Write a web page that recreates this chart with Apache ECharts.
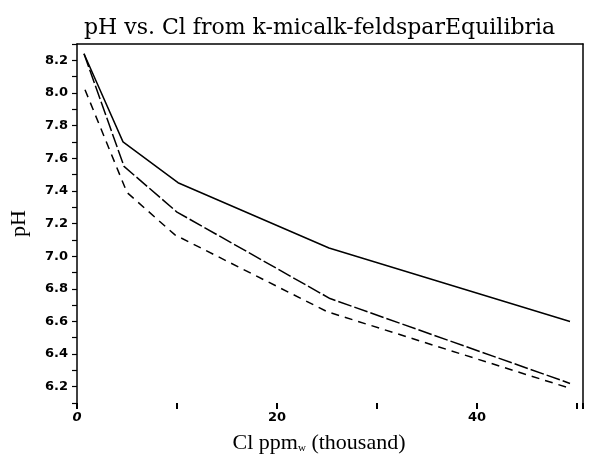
<!DOCTYPE html>
<html>
<head>
<meta charset="utf-8">
<script src="https://cdn.jsdelivr.net/npm/echarts@6/dist/echarts.min.js"></script>
<style>
  html, body { margin: 0; padding: 0; background: #fff; }
  #chart { width: 590px; height: 461px; }
</style>
</head>
<body>
<div id="chart"></div>
<script>
// Cl (thousand ppm) readings for each curve
const clSolid = [0.7, 4.6, 10.1, 25.2, 49.3]
const phSolid = [8.24, 7.70, 7.45, 7.05, 6.60]

const clLongDash = [0.7, 4.7, 10.0, 25.3, 49.3]
const phLongDash = [8.24, 7.55, 7.27, 6.74, 6.22]

const clDash = [0.8, 5.0, 9.8, 25.0, 49.3]
const phDash = [8.02, 7.39, 7.13, 6.66, 6.19]

const xLabels = [0, 20, 40]

function pairs(xs, ys) {
  return xs.map((x, i) => [x, ys[i]])
}

let chart = echarts.init(document.getElementById('chart'))

let option = {
  animation: false,
  title: {
    text: 'pH vs. Cl from k-micalk-feldsparEquilibria',
    left: 79,
    top: 12,
    textStyle: {
      fontFamily: 'DejaVu Serif',
      fontWeight: 'normal',
      fontSize: 22,
      color: '#000'
    }
  },
  grid: {
    left: 77,
    right: 7,
    top: 44,
    bottom: 58
  },
  xAxis: [
    {
      type: 'value',
      min: 0,
      max: 50.6,
      interval: 10,
      name: '{a|Cl ppm}{s|w}{a| (thousand)}',
      nameLocation: 'middle',
      nameGap: 29,
      nameTextStyle: {
        padding: [0, 22, 0, 0],
        rich: {
          a: { fontFamily: 'Liberation Serif', fontSize: 22, color: '#000' },
          s: { fontFamily: 'Liberation Serif', fontSize: 11, color: '#000', verticalAlign: 'bottom', padding: [10, 0, 0, 0] }
        }
      },
      axisLine: { show: false },
      axisTick: { show: true, length: 6, lineStyle: { color: '#000', width: 2 } },
      splitLine: { show: false },
      axisLabel: {
        margin: 8,
        formatter: v => v === 0 ? '{i|0}' : (xLabels.includes(v) ? String(v) : ''),
        fontFamily: 'DejaVu Sans',
        fontWeight: 'bold',
        fontSize: 13,
        color: '#000',
        rich: {
          i: { fontFamily: 'DejaVu Sans', fontWeight: 'bold', fontStyle: 'italic', fontSize: 13, color: '#000' }
        }
      }
    },
    {
      type: 'value',
      position: 'top',
      min: 0,
      max: 50.6,
      axisLine: { show: true, onZero: false, lineStyle: { color: '#000', width: 1.5 } },
      axisTick: { show: false },
      axisLabel: { show: false },
      splitLine: { show: false }
    }
  ],
  yAxis: [
    {
      type: 'value',
      min: 6.1,
      max: 8.3,
      interval: 0.1,
      name: 'pH',
      nameLocation: 'middle',
      nameGap: 47,
      nameTextStyle: {
        fontFamily: 'Liberation Serif',
        fontSize: 22,
        color: '#000'
      },
      axisLine: { show: true, onZero: false, lineStyle: { color: '#000', width: 1.5 } },
      axisTick: { show: true, length: 5, lineStyle: { color: '#000', width: 1.2 } },
      splitLine: { show: false },
      axisLabel: {
        margin: 9,
        formatter: v => Math.round(v * 10) % 2 === 0 ? v.toFixed(1) : '',
        fontFamily: 'DejaVu Sans',
        fontWeight: 'bold',
        fontSize: 13,
        color: '#000'
      }
    },
    {
      type: 'value',
      position: 'right',
      min: 6.1,
      max: 8.3,
      axisLine: { show: true, onZero: false, lineStyle: { color: '#000', width: 1.5 } },
      axisTick: { show: false },
      axisLabel: { show: false },
      splitLine: { show: false }
    }
  ],
  series: [
    {
      type: 'line',
      data: pairs(clSolid, phSolid),
      symbol: 'none',
      lineStyle: { color: '#000', width: 1.5, type: 'solid' }
    },
    {
      type: 'line',
      data: pairs(clLongDash, phLongDash),
      symbol: 'none',
      lineStyle: { color: '#000', width: 1.5, type: [14, 3] }
    },
    {
      type: 'line',
      data: pairs(clDash, phDash),
      symbol: 'none',
      lineStyle: { color: '#000', width: 1.5, type: [8, 6] }
    }
  ]
}

chart.setOption(option)
</script>
</body>
</html>
